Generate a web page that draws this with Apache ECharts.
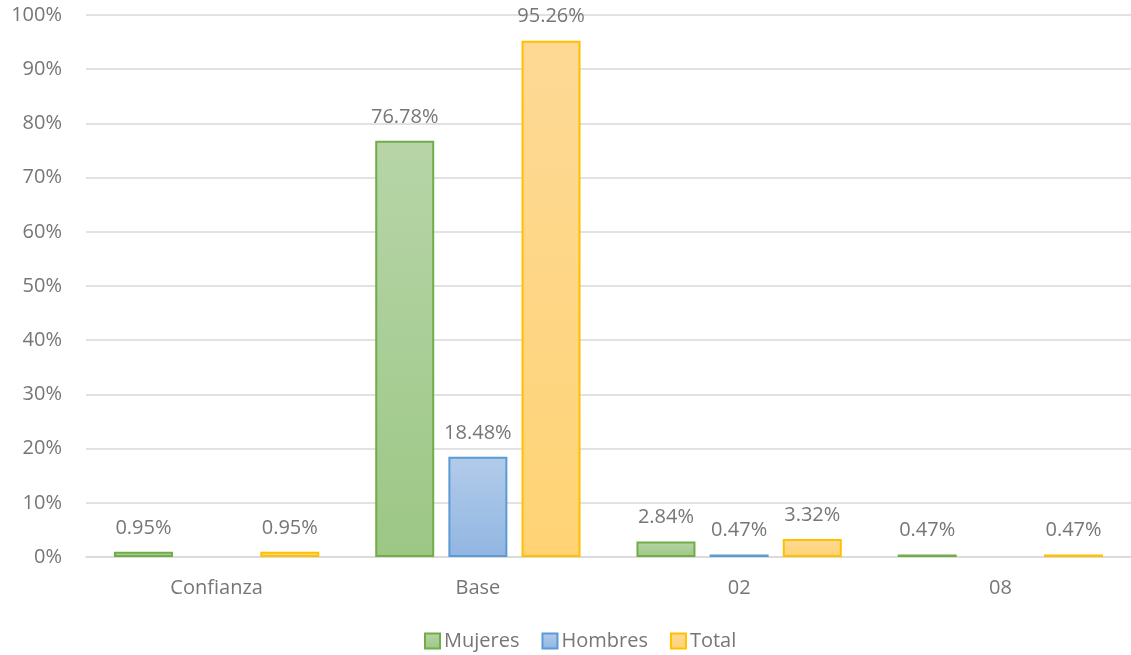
<!DOCTYPE html>
<html>
<head>
<meta charset="utf-8">
<script src="https://cdn.jsdelivr.net/npm/echarts@6/dist/echarts.min.js"></script>
<style>
  html, body { margin: 0; padding: 0; background: #fff; }
  #chart { width: 1131px; height: 655px; }
</style>
</head>
<body>
<div id="chart"></div>
<script>
// Distribución por tipo de plaza (porcentajes)
const categories = ['Confianza', 'Base', '02', '08'];
const mujeres = [0.95, 76.78, 2.84, 0.47];
const hombres = [0, 18.48, 0.47, 0];
const total = [0.95, 95.26, 3.32, 0.47];
const yTicks = [0, 10, 20, 30, 40, 50, 60, 70, 80, 90, 100];

const FONT = '"Open Sans", "Noto Sans", sans-serif';
const GRAY = '#767676';

function grad(top, bottom) {
  return new echarts.graphic.LinearGradient(0, 0, 0, 1, [
    { offset: 0, color: top },
    { offset: 1, color: bottom }
  ]);
}

function barSeries(name, data, border, top, bottom) {
  return {
    name: name,
    type: 'bar',
    // empty values get no bar and no label
    data: data.map(v => (v === 0 ? '-' : v)),
    barWidth: 59,
    barGap: '24%',
    itemStyle: { color: grad(top, bottom), borderColor: border, borderWidth: 2 },
    label: {
      show: true,
      position: 'top',
      distance: 14,
      color: GRAY,
      fontFamily: FONT,
      fontSize: 20,
      formatter: p => p.value.toFixed(2) + '%'
    }
  };
}

const chart = echarts.init(document.getElementById('chart'), null, { renderer: 'canvas' });
chart.setOption({
  animation: false,
  backgroundColor: '#fff',
  textStyle: { fontFamily: FONT },
  grid: { left: 86, right: 0, top: 15, bottom: 98 },
  legend: {
    top: 626,
    left: 419,
    icon: 'rect',
    itemWidth: 15,
    itemHeight: 15,
    itemGap: 22,
    textStyle: { color: GRAY, fontSize: 20, fontFamily: FONT, padding: [0, 0, 0, -1] },
    data: ['Mujeres', 'Hombres', 'Total']
  },
  xAxis: {
    type: 'category',
    data: categories,
    axisTick: { show: false },
    axisLine: { lineStyle: { color: '#d9d9d9', width: 1.5 } },
    axisLabel: { color: GRAY, fontSize: 20, fontFamily: FONT, margin: 21 }
  },
  yAxis: {
    type: 'value',
    min: yTicks[0],
    max: yTicks[yTicks.length - 1],
    interval: 10,
    axisLine: { show: false },
    axisTick: { show: false },
    splitLine: { lineStyle: { color: '#d9d9d9', width: 1.5 } },
    axisLabel: { color: GRAY, fontSize: 20, fontFamily: FONT, margin: 24, formatter: v => v + '%' }
  },
  series: [
    barSeries('Mujeres', mujeres, '#70ad47', '#b7d5a8', '#9cc785'),
    barSeries('Hombres', hombres, '#5b9bd5', '#b2cbea', '#91b6e2'),
    barSeries('Total', total, '#ffc000', '#fdd995', '#ffd375')
  ]
});
</script>
</body>
</html>
